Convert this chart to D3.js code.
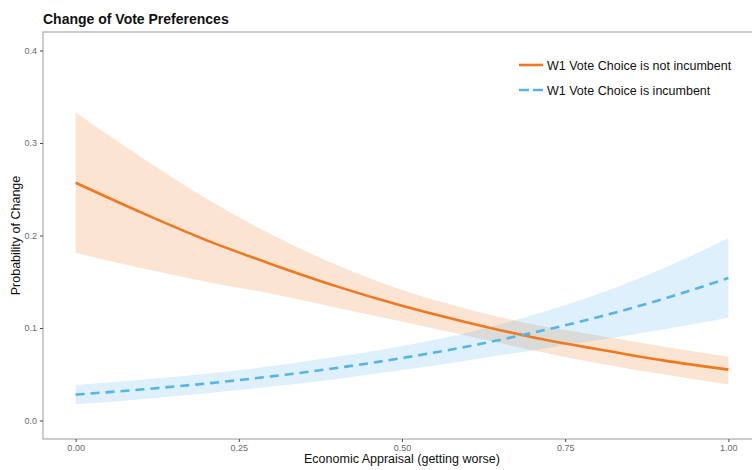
<!DOCTYPE html>
<html>
<head>
<meta charset="utf-8">
<script src="https://cdn.jsdelivr.net/npm/d3@7"></script>
<style>
  html, body { margin: 0; padding: 0; background: #fff; }
  svg { display: block; font-family: "Liberation Sans", Arial, Helvetica, sans-serif; }
</style>
</head>
<body>
<svg id="chart" width="752" height="470"></svg>
<script>
// ---- data ----
const xValues = [0, 0.1, 0.2, 0.3, 0.4, 0.5, 0.6, 0.7, 0.8, 0.9, 1.0];

// W1 Vote Choice is not incumbent
const notIncFit  = [0.257, 0.225, 0.195, 0.169, 0.145, 0.124, 0.106, 0.090, 0.077, 0.065, 0.055];
const notIncLow  = [0.181, 0.165, 0.150, 0.137, 0.122, 0.107, 0.0915, 0.076, 0.062, 0.050, 0.039];
const notIncHigh = [0.333, 0.285, 0.240, 0.201, 0.168, 0.141, 0.1205, 0.104, 0.092, 0.080, 0.069];

// W1 Vote Choice is incumbent
const incFit  = [0.028, 0.0335, 0.040, 0.0477, 0.0568, 0.0675, 0.080, 0.0948, 0.1117, 0.1314, 0.154];
const incLow  = [0.0175, 0.023, 0.0295, 0.0367, 0.0448, 0.0545, 0.065, 0.0758, 0.0867, 0.0984, 0.111];
const incHigh = [0.0385, 0.044, 0.0505, 0.0587, 0.0688, 0.0805, 0.095, 0.1138, 0.1367, 0.1644, 0.197];

const seriesNames = ["W1 Vote Choice is not incumbent", "W1 Vote Choice is incumbent"];
const xTicks = [0, 0.25, 0.5, 0.75, 1.0];
const yTicks = [0, 0.1, 0.2, 0.3, 0.4];

const chartTitle = "Change of Vote Preferences";
const xTitle = "Economic Appraisal (getting worse)";
const yTitle = "Probability of Change";

// ---- layout ----
const svg = d3.select("#chart");
const panel = { left: 43, top: 32, right: 761, bottom: 439 };

const x = d3.scaleLinear().domain([-0.05, 1.05]).range([panel.left, panel.right]);
const y = d3.scaleLinear().domain([-0.02, 0.42]).range([panel.bottom, panel.top]);

const colors = { orange: "#F07820", blue: "#56B4E9" };

const build = (fit, lo, hi) => xValues.map((v, i) => ({ x: v, fit: fit[i], lo: lo[i], hi: hi[i] }));
const series = [
  { name: seriesNames[0], data: build(notIncFit, notIncLow, notIncHigh), color: colors.orange, dash: null },
  { name: seriesNames[1], data: build(incFit, incLow, incHigh), color: colors.blue, dash: "9,6" }
];

const curve = d3.curveMonotoneX;
const area = d3.area().x(d => x(d.x)).y0(d => y(d.lo)).y1(d => y(d.hi)).curve(curve);
const line = d3.line().x(d => x(d.x)).y(d => y(d.fit)).curve(curve);

// ribbons
const g = svg.append("g");
series.forEach(s => {
  g.append("path").datum(s.data).attr("d", area)
    .attr("fill", s.color).attr("fill-opacity", 0.2).attr("stroke", "none");
});
// lines (blue first, orange on top? draw orange then blue)
series.forEach(s => {
  g.append("path").datum(s.data).attr("d", line)
    .attr("fill", "none").attr("stroke", s.color).attr("stroke-width", 2.6)
    .attr("stroke-dasharray", s.dash);
});

// panel border
svg.append("rect")
  .attr("x", panel.left).attr("y", panel.top)
  .attr("width", panel.right - panel.left).attr("height", panel.bottom - panel.top)
  .attr("fill", "none").attr("stroke", "#9a9a9a").attr("stroke-width", 1);

// axes
const xAxis = svg.append("g").attr("transform", `translate(0,${panel.bottom})`)
  .call(d3.axisBottom(x).tickValues(xTicks).tickFormat(d3.format(".2f")).tickSize(3).tickPadding(3));
const yAxis = svg.append("g").attr("transform", `translate(${panel.left},0)`)
  .call(d3.axisLeft(y).tickValues(yTicks).tickFormat(d3.format(".1f")).tickSize(3).tickPadding(3));
[xAxis, yAxis].forEach(a => {
  a.select(".domain").remove();
  a.selectAll(".tick line").attr("stroke", "#4d4d4d");
  a.selectAll(".tick text").attr("fill", "#6a6a6a").style("font-size", "9px")
    .style("font-family", "'Liberation Sans', Arial, sans-serif");
});

// titles
svg.append("text").attr("x", panel.left).attr("y", 24)
  .attr("font-size", 14).attr("font-weight", "bold").attr("fill", "#111")
  .text(chartTitle);

svg.append("text").attr("x", (panel.left + panel.right) / 2).attr("y", 463)
  .attr("text-anchor", "middle").attr("font-size", 12.5).attr("fill", "#111")
  .text(xTitle);

svg.append("text")
  .attr("transform", `translate(20,${(panel.top + panel.bottom) / 2}) rotate(-90)`)
  .attr("text-anchor", "middle").attr("font-size", 12.5).attr("fill", "#111")
  .text(yTitle);

// legend
const legend = svg.append("g").attr("transform", "translate(519,65)");
series.forEach((s, i) => {
  const row = legend.append("g").attr("transform", `translate(0,${i * 25})`);
  row.append("line").attr("x1", 0).attr("x2", 24).attr("y1", 0).attr("y2", 0)
    .attr("stroke", s.color).attr("stroke-width", 2.6)
    .attr("stroke-dasharray", s.dash ? "10,4" : null);
  row.append("text").attr("x", 28).attr("y", 4.5)
    .attr("font-size", 12.5).attr("fill", "#111").text(s.name);
});
</script>
</body>
</html>
